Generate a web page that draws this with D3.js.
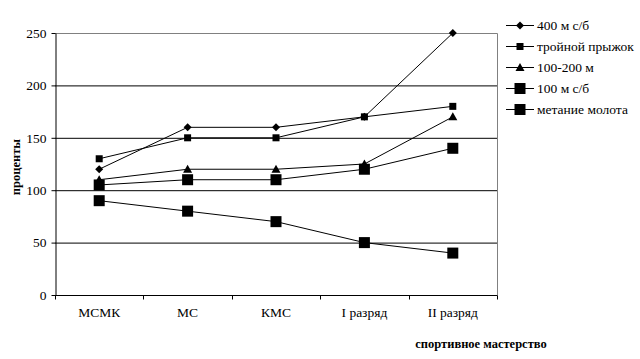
<!DOCTYPE html>
<html><head><meta charset="utf-8">
<script src="https://cdn.jsdelivr.net/npm/d3@7"></script>
<style>
body{margin:0;background:#fff;}
svg{display:block;}
</style></head>
<body><svg id="c" width="640" height="359"></svg>
<script>
const categories = ["МСМК", "МС", "КМС", "I разряд", "II разряд"];
const seriesNames = ["400 м с/б", "тройной прыжок", "100-200 м", "100 м с/б", "метание молота"];
const s400 = [120, 160, 160, 170, 250];
const sTriple = [130, 150, 150, 170, 180];
const s100200 = [110, 120, 120, 125, 170];
const s100 = [105, 110, 110, 120, 140];
const sHammer = [90, 80, 70, 50, 40];
const yTicks = [0, 50, 100, 150, 200, 250];
const markerTypes = ["diamond", "smallsquare", "triangle", "bigsquare", "bigsquare"];

const FONT = "'Liberation Serif', 'Times New Roman', serif";
const seriesValues = [s400, sTriple, s100200, s100, sHammer];
const svg = d3.select("#c");
const L = 55, R = 497, T = 33, B = 295;
const x = d3.scaleBand().domain(categories).range([L, R]);
const y = d3.scaleLinear().domain([0, 250]).range([B, T]);

svg.append("g").selectAll("line").data(yTicks.filter(d => d > 0 && d < 250)).join("line")
  .attr("x1", L).attr("x2", R).attr("y1", d => y(d) + 0.5).attr("y2", d => y(d) + 0.5)
  .attr("stroke", "#000").attr("stroke-width", 1);
svg.append("path").attr("d", `M${L},${T + 0.5}H${R + 0.5}V${B}`)
  .attr("fill", "none").attr("stroke", "#808080").attr("stroke-width", 1);

const yAxis = d3.axisLeft(y).tickValues(yTicks).tickSize(4).tickSizeOuter(0).tickPadding(5);
const gy = svg.append("g").attr("transform", `translate(${L + 0.5},0)`).call(yAxis);
gy.select(".domain").attr("stroke", "#000");
gy.selectAll(".tick line").attr("stroke", "#000");
gy.selectAll(".tick text").style("font-size", "13.5px").style("font-family", FONT).attr("fill", "#000");

const xAxis = d3.axisBottom(x).tickSize(0).tickPadding(12);
const gx = svg.append("g").attr("transform", `translate(0,${B + 0.5})`).call(xAxis);
gx.select(".domain").remove();
gx.append("line").attr("x1", L).attr("x2", R + 0.5).attr("stroke", "#000");
gx.selectAll(".tick text").style("font-size", "13.5px").style("font-family", FONT).attr("fill", "#000");
const bounds = categories.map(c => x(c)).concat([R]);
gx.selectAll("line.b").data(bounds).join("line").attr("class", "b")
  .attr("x1", d => Math.round(d) + 0.5).attr("x2", d => Math.round(d) + 0.5)
  .attr("y1", 0).attr("y2", 4).attr("stroke", "#000");

function marker(g, type, cx, cy) {
  if (type === "diamond") {
    g.append("path").attr("d", `M${cx},${cy - 4}L${cx + 4},${cy}L${cx},${cy + 4}L${cx - 4},${cy}Z`).attr("fill", "#000");
  } else if (type === "smallsquare") {
    g.append("rect").attr("x", cx - 3.5).attr("y", cy - 3.5).attr("width", 7).attr("height", 7).attr("fill", "#000");
  } else if (type === "triangle") {
    g.append("path").attr("d", `M${cx},${cy - 4.5}L${cx + 4.5},${cy + 3.5}L${cx - 4.5},${cy + 3.5}Z`).attr("fill", "#000");
  } else {
    g.append("rect").attr("x", cx - 5.5).attr("y", cy - 5.5).attr("width", 11).attr("height", 11).attr("fill", "#000");
  }
}

const line = d3.line().x((d, i) => x(categories[i]) + x.bandwidth() / 2).y(d => y(d));
seriesValues.forEach((vals, si) => {
  const g = svg.append("g");
  g.append("path").attr("d", line(vals)).attr("fill", "none").attr("stroke", "#000").attr("stroke-width", 1);
  vals.forEach((v, i) => marker(g, markerTypes[si], x(categories[i]) + x.bandwidth() / 2, y(v)));
});

const lg = svg.append("g");
const legY = [25, 46, 67, 88, 109];
seriesNames.forEach((n, i) => {
  const yy = legY[i];
  lg.append("line").attr("x1", 506).attr("x2", 534).attr("y1", yy + 0.5).attr("y2", yy + 0.5).attr("stroke", "#000");
  marker(lg, markerTypes[i], 520, yy + 0.5);
  lg.append("text").attr("x", 537).attr("y", yy + 5).style("font-size", "13.5px").style("font-family", FONT).text(n);
});

svg.append("text").attr("transform", "translate(20,167) rotate(-90)")
  .attr("text-anchor", "middle").style("font-weight", "bold").style("font-size", "12.5px").style("font-family", FONT).text("проценты");
svg.append("text").attr("x", 481).attr("y", 348).attr("text-anchor", "middle")
  .style("font-weight", "bold").style("font-size", "12.5px").style("font-family", FONT).text("спортивное мастерство");
</script></body></html>
